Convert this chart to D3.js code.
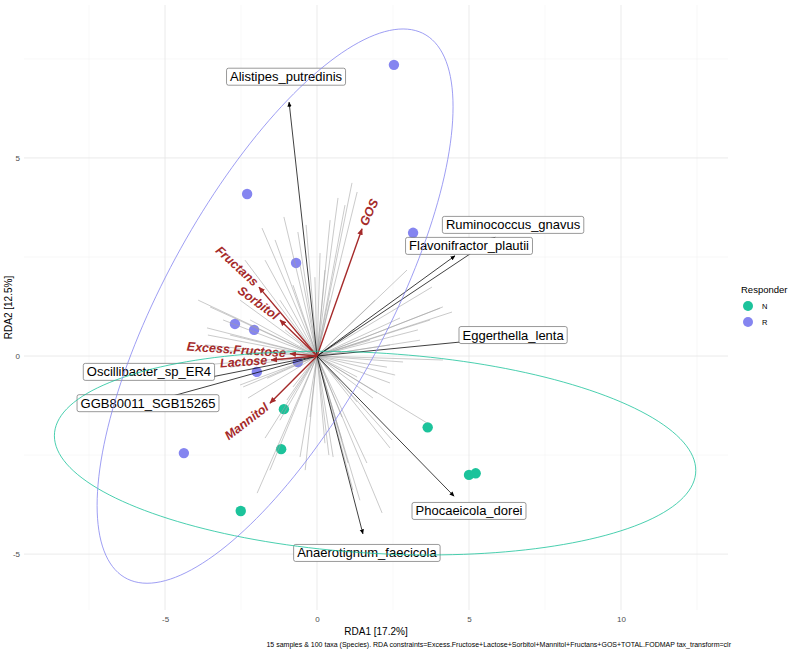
<!DOCTYPE html>
<html><head><meta charset="utf-8">
<script src="https://cdn.jsdelivr.net/npm/d3@7"></script>
<style>body{margin:0;background:#fff} text{font-family:"Liberation Sans",Arial,sans-serif}</style>
</head><body><svg id="c" width="790" height="650"></svg>
<script>
// ---- data ----
const sampleGroup = ["R","R","R","R","R","R","R","R","R","N","N","N","N","N","N"];
const sampleRDA1 = [2.53,-2.30,3.16,-0.69,-2.70,-2.07,-0.63,-1.98,-4.38,-1.09,-1.18,-2.51,3.64,5.00,5.22];
const sampleRDA2 = [7.35,4.09,3.11,2.35,0.81,0.66,-0.15,-0.40,-2.45,-1.34,-2.35,-3.91,-1.80,-3.00,-2.96];

const taxaRDA1 = [-1.81,-1.09,-1.71,-1.38,-0.63,-3.91,-3.62,-3.59,-3.09,-3.52,-2.86,-3.68,-2.53,-2.20,-1.22,-2.37,
 0.69,1.32,1.15,0.10,-0.07,0.43,0.92,-0.36,-0.56,-0.79,0.26,2.96,3.78,4.05,3.32,2.73,3.72,3.39,2.40,4.14,4.44,1.91,
 4.14,2.30,2.83,2.40,2.14,3.62,1.41,1.02,1.32,1.84,2.57,1.32,0.53,2.47,1.64,1.97,2.40,0.82,1.18,0.82,0.26,0.39,
 -1.97,-1.71,-0.56,-2.27,-2.53,-1.64,-0.79,-0.99,-0.23,-2.86,-2.43,-1.22,-0.39,-1.55,-3.85,-3.36,0.43,1.25,1.74,-1.05,-0.56,0.76];
const taxaRDA2 = [3.23,3.51,2.42,2.93,3.13,1.41,0.71,0.53,0.91,1.24,0.53,0.28,1.41,0.91,1.41,2.42,
 3.99,4.14,4.37,2.60,1.99,3.43,3.81,3.31,2.30,1.79,2.17,2.17,1.74,1.21,0.66,0.96,0.91,0.40,0.28,1.24,1.11,1.41,
 -0.10,-0.28,-0.15,-2.32,-3.96,-1.69,-3.64,-2.70,-1.16,-1.06,-0.48,-0.53,-2.55,-2.12,-2.70,-0.93,-0.68,-2.12,-3.38,-1.54,-2.20,-2.50,
 -3.46,-2.07,-2.55,-1.06,-0.73,-0.56,-0.78,-1.11,-1.54,-0.28,-0.78,-1.62,-2.88,-2.88,-0.23,0.15,1.41,0.66,0.40,0.66,0.28,-0.61];

const topTaxa = ["Alistipes_putredinis","Ruminococcus_gnavus","Flavonifractor_plautii","Eggerthella_lenta",
 "Phocaeicola_dorei","Anaerotignum_faecicola","Oscillibacter_sp_ER4","GGB80011_SGB15265"];
const topTaxaRDA1 = [-0.92,5.86,4.54,5.20,4.51,1.51,-3.68,-5.00];
const topTaxaRDA2 = [6.41,3.00,2.53,0.39,-3.54,-4.49,-0.56,-1.06];
const topTaxaLabRDA1 = [-1.02,6.45,5.00,6.45,5.00,1.64,-5.53,-5.56];
const topTaxaLabRDA2 = [7.05,3.31,2.78,0.53,-3.91,-4.97,-0.40,-1.19];

const constraintNames = ["Excess.Fructose","Lactose","Sorbitol","Mannitol","Fructans","GOS"];
const constraintRDA1 = [-0.89,-1.51,-1.22,-1.55,-1.91,1.48];
const constraintRDA2 = [0.06,-0.10,0.91,-1.19,1.74,3.21];

const ellipseGroup = ["N","R"];
const ellipseCenterX = [1.91,-1.38];
const ellipseCenterY = [-2.45,1.26];
const ellipseSdX = [10.55,5.855];
const ellipseSdY = [2.57,6.995];
const ellipseCov = [-4.614,29.45];

const groupLevels = ["N","R"];
const groupColors = ["#1CC39B","#8585F0"];

const xTicks = [-5,0,5,10];
const yTicks = [-5,0,5];
const xMinor = [-7.5,-2.5,2.5,7.5,12.5];
const yMinor = [-2.5,2.5,7.5];

const xTitle = "RDA1 [17.2%]";
const yTitle = "RDA2 [12.5%]";
const caption = "15 samples & 100 taxa (Species). RDA constraints=Excess.Fructose+Lactose+Sorbitol+Mannitol+Fructans+GOS+TOTAL.FODMAP tax_transform=clr";
const legendTitle = "Responder";

// ---- layout ----
const P = {l:24, r:728, t:5, b:610};
const svg = d3.select("#c");
const x = d3.scaleLinear().domain([-9.64,13.52]).range([P.l,P.r]);
const y = d3.scaleLinear().domain([8.86,-6.41]).range([P.t,P.b]);
const col = d3.scaleOrdinal().domain(groupLevels).range(groupColors);
const BROWN = "#A52A2A";

// grid
const g = svg.append("g");
g.selectAll(".vmin").data(xMinor).join("line").attr("x1",d=>x(d)).attr("x2",d=>x(d)).attr("y1",P.t).attr("y2",P.b).attr("stroke","#f0f0f0").attr("stroke-width",0.5);
g.selectAll(".hmin").data(yMinor).join("line").attr("y1",d=>y(d)).attr("y2",d=>y(d)).attr("x1",P.l).attr("x2",P.r).attr("stroke","#f0f0f0").attr("stroke-width",0.5);
g.selectAll(".vmaj").data(xTicks).join("line").attr("x1",d=>x(d)).attr("x2",d=>x(d)).attr("y1",P.t).attr("y2",P.b).attr("stroke","#e6e6e6").attr("stroke-width",0.8);
g.selectAll(".hmaj").data(yTicks).join("line").attr("y1",d=>y(d)).attr("y2",d=>y(d)).attr("x1",P.l).attr("x2",P.r).attr("stroke","#e6e6e6").attr("stroke-width",0.8);

// axes
const ax = svg.append("g").attr("transform",`translate(0,${P.b})`)
  .call(d3.axisBottom(x).tickValues(xTicks).tickSize(0).tickPadding(6).tickFormat(d=>String(d)));
ax.select(".domain").remove();
ax.selectAll("text").attr("fill","#4D4D4D").style("font-size","8px").style("font-family","'Liberation Sans',Arial,sans-serif");
const ay = svg.append("g").attr("transform",`translate(${P.l},0)`)
  .call(d3.axisLeft(y).tickValues(yTicks).tickSize(0).tickPadding(4).tickFormat(d=>String(d)));
ay.select(".domain").remove();
ay.selectAll("text").attr("fill","#4D4D4D").style("font-size","8px").style("font-family","'Liberation Sans',Arial,sans-serif");

svg.append("text").attr("x",(P.l+P.r)/2).attr("y",635).attr("text-anchor","middle").style("font-size","10px").text(xTitle);
svg.append("text").attr("transform",`translate(12,${(P.t+P.b)/2}) rotate(-90)`).attr("text-anchor","middle").style("font-size","10px").text(yTitle);
svg.append("text").attr("x",P.r+3).attr("y",647).attr("text-anchor","end").style("font-size","7px").text(caption);

// markers
const defs = svg.append("defs");
function marker(id,color,s){
  defs.append("marker").attr("id",id).attr("viewBox","0 -3 6 6").attr("refX",5.5).attr("refY",0)
    .attr("markerUnits","userSpaceOnUse").attr("markerWidth",s).attr("markerHeight",s).attr("orient","auto")
    .append("path").attr("d","M0,-2.6L6,0L0,2.6Z").attr("fill",color);
}
marker("ab","#000",5);
marker("ar",BROWN,6.5);
defs.append("clipPath").attr("id","clp").append("rect").attr("x",P.l).attr("y",P.t).attr("width",P.r-P.l).attr("height",P.b-P.t);

const plot = svg.append("g").attr("clip-path","url(#clp)");

// samples
const samples = sampleGroup.map((gr,i)=>({gr, x:sampleRDA1[i], y:sampleRDA2[i]}));
plot.selectAll(".pt").data(samples).join("circle").attr("cx",d=>x(d.x)).attr("cy",d=>y(d.y)).attr("r",5.2).attr("fill",d=>col(d.gr));

// taxa lines
const taxa = taxaRDA1.map((v,i)=>({x:v,y:taxaRDA2[i]}));
plot.selectAll(".tx").data(taxa).join("line").attr("x1",x(0)).attr("y1",y(0)).attr("x2",d=>x(d.x)).attr("y2",d=>y(d.y))
  .attr("stroke","#a0a0a0").attr("stroke-opacity",0.8).attr("stroke-width",0.7);

// top taxa arrows
const topData = topTaxa.map((n,i)=>({n,x:topTaxaRDA1[i],y:topTaxaRDA2[i],lx:topTaxaLabRDA1[i],ly:topTaxaLabRDA2[i]}));
plot.selectAll(".tt").data(topData).join("line").attr("x1",x(0)).attr("y1",y(0)).attr("x2",d=>x(d.x)).attr("y2",d=>y(d.y))
  .attr("stroke","#000").attr("stroke-width",0.75).attr("marker-end","url(#ab)");

// constraint arrows
const cons = constraintNames.map((n,i)=>({n,x:constraintRDA1[i],y:constraintRDA2[i]}));
plot.selectAll(".cv").data(cons).join("line").attr("x1",x(0)).attr("y1",y(0)).attr("x2",d=>x(d.x)).attr("y2",d=>y(d.y))
  .attr("stroke",BROWN).attr("stroke-width",1.4).attr("marker-end","url(#ar)");

// constraint labels
cons.forEach(d=>{
  const px=x(d.x), py=y(d.y), dx=px-x(0), dy=py-y(0), L=Math.hypot(dx,dy);
  const ox=px+dx/L*4, oy=py+dy/L*4;
  const ang = Math.atan(d.y/d.x)*180/Math.PI;
  svg.append("text").attr("transform",`translate(${ox},${oy}) rotate(${-ang})`)
    .attr("text-anchor", d.x>0?"start":"end").attr("dominant-baseline","central")
    .attr("fill",BROWN).style("font-size","12.5px").style("font-weight","bold").style("font-style","italic").text(d.n);
});

// taxa labels
topData.forEach(d=>{
  const gg = svg.append("g").attr("transform",`translate(${x(d.lx)},${y(d.ly)})`);
  const t = gg.append("text").attr("text-anchor","middle").attr("dominant-baseline","central").style("font-size","13px").attr("fill","#000").text(d.n);
  const w = t.node().getComputedTextLength();
  gg.insert("rect","text").attr("x",-w/2-3.5).attr("y",-8.5).attr("width",w+7).attr("height",17).attr("rx",2)
    .attr("fill","#fff").attr("stroke","#555").attr("stroke-width",0.6);
});

// ellipses
const ts = d3.range(0,361,2).map(a=>a*Math.PI/180);
ellipseGroup.forEach((gr,i)=>{
  const a=ellipseSdX[i], b=ellipseCov[i]/a, c=Math.sqrt(ellipseSdY[i]**2-b*b);
  const pts = ts.map(t=>[ellipseCenterX[i]+a*Math.cos(t), ellipseCenterY[i]+b*Math.cos(t)+c*Math.sin(t)]);
  svg.append("path").attr("d",d3.line().x(p=>x(p[0])).y(p=>y(p[1])).curve(d3.curveLinearClosed)(pts))
    .attr("fill","none").attr("stroke",col(gr)).attr("stroke-width",0.8);
});

// legend
const lg = svg.append("g");
lg.append("text").attr("x",741).attr("y",293).style("font-size","9.5px").text(legendTitle);
groupLevels.forEach((gr,i)=>{
  lg.append("circle").attr("cx",748).attr("cy",306+i*16).attr("r",5).attr("fill",col(gr));
  lg.append("text").attr("x",762).attr("y",306+i*16).attr("dominant-baseline","central").style("font-size","7.5px").text(gr);
});
</script></body></html>
